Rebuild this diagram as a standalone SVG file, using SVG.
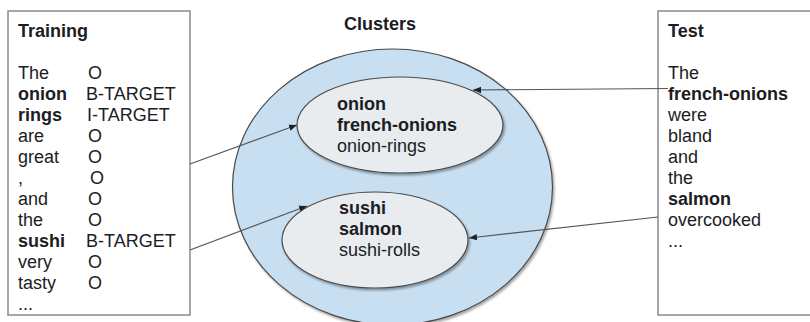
<svg xmlns="http://www.w3.org/2000/svg" width="810" height="322" viewBox="0 0 810 322">
  <defs>
    <style>
      text { font-family: "Liberation Sans", Arial, sans-serif; font-size: 18px; fill: #1c1c24; }
      .b { font-weight: bold; }
      .box { fill: #ffffff; stroke: #8a8a8a; stroke-width: 1.5; }
      .outer { fill: #c8dff1; stroke: #4a4a4a; stroke-width: 1.2; }
      .inner { fill: #e8ecee; stroke: #4a4a4a; stroke-width: 1.2; }
      .edge { fill: none; stroke: #555; stroke-width: 1.2; marker-end: url(#arrow); }
    </style>
    <marker id="arrow" viewBox="0 0 10 10" refX="10" refY="5" markerWidth="8" markerHeight="8" markerUnits="userSpaceOnUse" orient="auto">
      <path d="M0,1 L10,5 L0,9 Z" fill="#222"/>
    </marker>
    <filter id="shadow" x="-10%" y="-10%" width="120%" height="120%">
      <feDropShadow dx="1.5" dy="2" stdDeviation="1.2" flood-color="#000" flood-opacity="0.35"/>
    </filter>
  </defs>

  <!-- Training corpus -->
  <g id="training">
    <rect class="box" x="8" y="11" width="182" height="304"/>
    <text class="b" x="18" y="37">Training</text>
    <text x="18" y="79">The</text><text x="88" y="79">O</text>
    <text class="b" x="18" y="100">onion</text><text x="86" y="100">B-TARGET</text>
    <text class="b" x="18" y="121">rings</text><text x="87" y="121">I-TARGET</text>
    <text x="18" y="142">are</text><text x="88" y="142">O</text>
    <text x="18" y="163">great</text><text x="88" y="163">O</text>
    <text x="18" y="184">,</text><text x="90" y="184">O</text>
    <text x="18" y="205">and</text><text x="88" y="205">O</text>
    <text x="18" y="226">the</text><text x="88" y="226">O</text>
    <text class="b" x="18" y="247">sushi</text><text x="86" y="247">B-TARGET</text>
    <text x="18" y="268">very</text><text x="88" y="268">O</text>
    <text x="18" y="289">tasty</text><text x="88" y="289">O</text>
    <text x="18" y="310">...</text>
  </g>

  <!-- Cluster space -->
  <g id="clusters">
    <text class="b" x="344" y="30">Clusters</text>
    <ellipse class="outer" filter="url(#shadow)" cx="392.5" cy="187" rx="160" ry="138"/>
  </g>

  <g id="cluster-onion">
    <ellipse class="inner" filter="url(#shadow)" cx="400" cy="125" rx="103" ry="48"/>
    <text class="b" x="337" y="110">onion</text>
    <text class="b" x="337" y="131">french-onions</text>
    <text x="337" y="152">onion-rings</text>
  </g>

  <g id="cluster-sushi">
    <ellipse class="inner" filter="url(#shadow)" cx="375" cy="240" rx="93" ry="48"/>
    <text class="b" x="339" y="214">sushi</text>
    <text class="b" x="339" y="235">salmon</text>
    <text x="339" y="256">sushi-rolls</text>
  </g>

  <!-- Test sentence -->
  <g id="test">
    <rect class="box" x="658" y="11" width="160" height="304"/>
    <text class="b" x="668" y="37">Test</text>
    <text x="668" y="79">The</text>
    <text class="b" x="668" y="100">french-onions</text>
    <text x="668" y="121">were</text>
    <text x="668" y="142">bland</text>
    <text x="668" y="163">and</text>
    <text x="668" y="184">the</text>
    <text class="b" x="668" y="205">salmon</text>
    <text x="668" y="226">overcooked</text>
    <text x="668" y="247">...</text>
  </g>

  <!-- Connectors -->
  <g id="connectors">
    <line class="edge" x1="190" y1="164" x2="297" y2="125"/>
    <line class="edge" x1="190" y1="250" x2="307" y2="206"/>
    <line class="edge" x1="668" y1="88.5" x2="473" y2="90"/>
    <line class="edge" x1="658" y1="217" x2="469" y2="238"/>
  </g>
</svg>
